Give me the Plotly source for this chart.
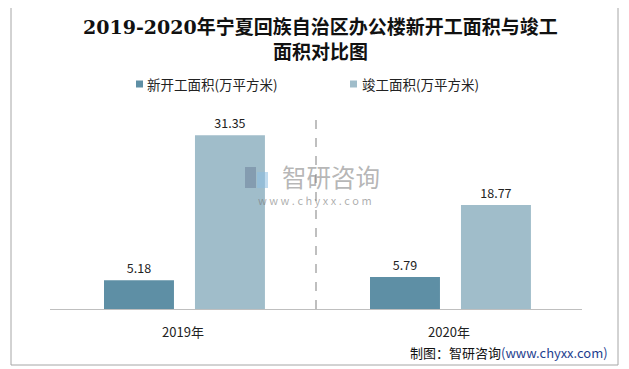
import plotly.graph_objects as go

categories = ["2019年", "2020年"]
new_started = [5.18, 5.79]
completed = [31.35, 18.77]
series_names = ["新开工面积(万平方米)", "竣工面积(万平方米)"]
series_colors = ["#5e8fa5", "#a0bdca"]

# page body has an 8px default margin; work in screen pixels and convert
OFF = 8
W, H = 621, 361
L, T = 50 - OFF, 115 - OFF
pw, ph = 532, 194
R, B = W - L - pw, H - T - ph

def px(x):
    return (x - OFF - L) / pw

def py(y):
    return (T + ph - (y - OFF)) / ph

fig = go.Figure()
for vals, name, col, off in [(new_started, series_names[0], series_colors[0], -0.297),
                             (completed, series_names[1], series_colors[1], 0.045)]:
    fig.add_trace(go.Bar(
        x=categories, y=vals, name=name,
        marker=dict(color=col, line=dict(width=0)),
        width=0.263, offset=off,
        text=[f"{v:.2f}" for v in vals], textposition="outside",
        textfont=dict(size=12.5, color="#222222"), cliponaxis=False,
        showlegend=False,
    ))

shapes = [
    dict(type="line", xref="x", yref="paper", x0=0.5, x1=0.5, y0=0, y1=1.0,
         line=dict(color="#aaaaaa", width=1.5, dash="dash")),
    dict(type="rect", xref="paper", yref="paper",
         x0=px(11), x1=px(618), y0=py(365), y1=py(3),
         line=dict(color="#a6a6a6", width=1)),
    # legend squares
    dict(type="rect", xref="paper", yref="paper",
         x0=px(136), x1=px(143), y0=py(87.5), y1=py(80.5),
         line=dict(width=0), fillcolor=series_colors[0]),
    dict(type="rect", xref="paper", yref="paper",
         x0=px(350), x1=px(357), y0=py(87.5), y1=py(80.5),
         line=dict(width=0), fillcolor=series_colors[1]),
    # watermark logo
    dict(type="rect", xref="paper", yref="paper",
         x0=px(245), x1=px(256), y0=py(188), y1=py(167),
         line=dict(width=0), fillcolor="rgba(110,130,155,0.55)", layer="above"),
    dict(type="rect", xref="paper", yref="paper",
         x0=px(257), x1=px(268), y0=py(188), y1=py(172),
         line=dict(width=0), fillcolor="rgba(140,190,225,0.55)", layer="above"),
]

title_font = dict(size=19, color="#111111", family="DejaVu Serif, Noto Sans CJK SC")
annotations = [
    dict(text="<b>2019-2020年宁夏回族自治区办公楼新开工面积与竣工</b>",
         x=px(320), y=py(27), xref="paper", yref="paper", showarrow=False,
         font=title_font, xanchor="center", yanchor="middle"),
    dict(text="<b>面积对比图</b>",
         x=px(320), y=py(52), xref="paper", yref="paper", showarrow=False,
         font=title_font, xanchor="center", yanchor="middle"),
    dict(text=series_names[0], x=px(145), y=py(84), xref="paper", yref="paper",
         showarrow=False, font=dict(size=13.5, color="#222222"),
         xanchor="left", yanchor="middle"),
    dict(text=series_names[1], x=px(360), y=py(84), xref="paper", yref="paper",
         showarrow=False, font=dict(size=13.5, color="#222222"),
         xanchor="left", yanchor="middle"),
    dict(text="智研咨询", x=px(331), y=py(176), xref="paper", yref="paper",
         showarrow=False, font=dict(size=24.5, color="rgba(120,120,120,0.55)"),
         xanchor="center", yanchor="middle"),
    dict(text="w w w . c h y x x . c o m", x=px(315), y=py(200), xref="paper", yref="paper",
         showarrow=False, font=dict(size=11, color="rgba(120,120,120,0.6)"),
         xanchor="center", yanchor="middle"),
    dict(text="制图：智研咨询<span style='color:#1f3f8f'>(www.chyxx.com)</span>",
         x=px(610), y=py(352), xref="paper", yref="paper", showarrow=False,
         font=dict(size=13, color="#111111"), xanchor="right", yanchor="middle"),
]

fig.update_layout(
    width=W, height=H,
    margin=dict(l=L, r=R, t=T, b=B),
    paper_bgcolor="white", plot_bgcolor="white",
    font=dict(family="Noto Sans CJK SC, Liberation Sans", color="#222222"),
    barmode="overlay",
    showlegend=False,
    xaxis=dict(type="category", range=[-0.5, 1.5], showline=True, linecolor="#bfbfbf",
               linewidth=1, ticks="", showgrid=False, zeroline=False,
               ticklabelstandoff=11,
               tickfont=dict(size=13, color="#222222")),
    yaxis=dict(range=[0, 35], visible=False, showgrid=False, zeroline=False),
    shapes=shapes,
    annotations=annotations,
)

fig.write_html("out.html")
